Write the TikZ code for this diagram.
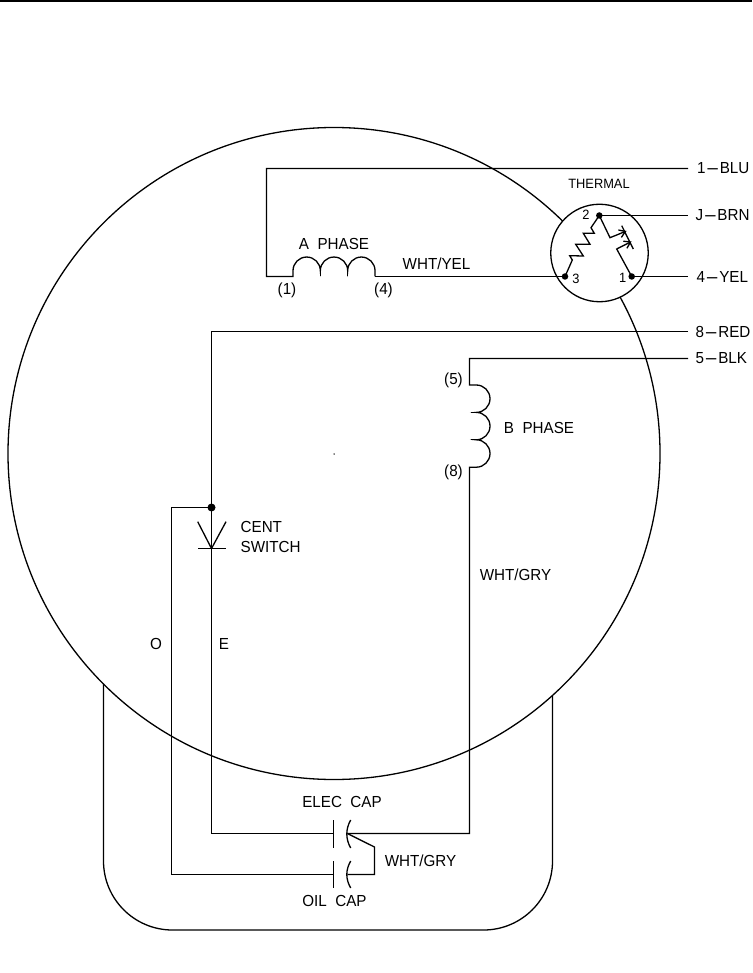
\documentclass[tikz,border=0pt]{standalone}
\usepackage{fontspec}
\setmainfont[FakeStretch=0.95]{Liberation Sans}
\usetikzlibrary{arrows.meta}
\newcommand{\longhy}{\scalebox{2.8}[1]{-}}

\begin{document}
\begin{tikzpicture}[x=1pt,y=-1pt,line width=1.3pt,
  lbl/.style={inner sep=0pt,font=\fontsize{16}{16}\selectfont},
  sm/.style={inner sep=0pt,font=\fontsize{13.5}{13.5}\selectfont},
  dot/.style={circle,fill=black,inner sep=0pt,minimum size=6.5pt},
  barb/.style={-{Straight Barb[length=6pt,width=8pt]}}]
\useasboundingbox (0,0) rectangle (752,973);
\coordinate (ruleL) at (0,1);
\coordinate (ruleR) at (752,1);
\draw[line width=2pt] (ruleL) -- (ruleR);

\node[circle,draw=black,inner sep=0pt,minimum size=652pt] (motor) at (334,453.5) {};
\node[circle,fill=black,inner sep=0pt,minimum size=1.5pt] (centre) at (334,454) {};
\node[circle,draw=black,fill=white,inner sep=0pt,minimum size=97.5pt] (thermal) at (599.5,253) {};

\coordinate (shellL) at (103.5,683.5);
\coordinate (shellR) at (552.5,696);
\draw (shellL) -- (103.5,861) arc[start angle=180,end angle=270,radius=69pt] -- (483.5,930) arc[start angle=270,end angle=360,radius=69pt] -- (shellR);

\node[dot] (t2) at (599.3,215.5) {};
\node[dot] (t3) at (565,276.5) {};
\node[dot] (t1) at (631.7,276.5) {};
\node[sm] (n2) at (586,214.3) {2};
\node[sm] (n3) at (576,279) {3};
\node[sm] (n1) at (622.7,278.3) {1};
\node[sm] (thermlbl) at (599,184.3) {THERMAL};

\draw (t3.center) -- (572.3,260) -- (569.7,255.7) -- (583.3,256) -- (575.7,244.3) -- (590,244.3) -- (583.3,233.3) -- (594.3,233.3) -- (591,227.7) -- (t2.center);
\coordinate (barT) at (621.7,225.7);
\coordinate (barB) at (633.3,249);
\draw (barT) -- (barB);
\draw[barb] (t2.center) -- (610,237.7) -- (626.5,231);
\draw[barb] (t1.center) -- (616.7,249) -- (631.5,241.5);

\node[lbl,anchor=west] (blu) at (696.5,168.5) {1\longhy BLU};
\node[lbl,anchor=west] (brn) at (695,215.5) {J\longhy BRN};
\node[lbl,anchor=west] (yel) at (696,276.5) {4\longhy YEL};
\node[lbl,anchor=west] (red) at (695,331.5) {8\longhy RED};
\node[lbl,anchor=west] (blk) at (695,358.5) {5\longhy BLK};
\coordinate (bluE) at (688,168.5);
\coordinate (brnE) at (688,215.5);
\coordinate (yelE) at (688,276.5);
\coordinate (redE) at (688,331.5);
\coordinate (blkE) at (688,358.5);

\coordinate (aIn) at (293,276.5);
\coordinate (aOut) at (375,276.5);
\draw (bluE) -- (266.5,168.5) -- (266.5,276.5) -- (aIn) -- (293,270.7)
  \foreach \i in {1,2,3} { arc[start angle=180,end angle=0,radius=13.67pt] } -- (aOut);
\draw (320.3,270.7) -- (320.3,276);
\draw (347.7,270.7) -- (347.7,276);
\draw (aOut) -- (t3.center);
\draw (t2.center) -- (brnE);
\draw (t1.center) -- (yelE);
\node[lbl] (aphase) at (334,244) {A\ \ PHASE};
\node[lbl] (p1) at (287,290) {(1)};
\node[lbl] (p4) at (383.5,290) {(4)};
\node[lbl] (wy) at (436.5,264) {WHT/YEL};

\coordinate (bIn) at (469.5,385);
\coordinate (bOut) at (469.5,467.3);
\coordinate (elecR) at (347.3,833.5);
\draw (blkE) -- (469.5,358.5) -- (bIn) -- (476.3,385)
  \foreach \i in {1,2,3} { arc[start angle=90,end angle=-90,radius=13.7pt] } -- (bOut) -- (469.5,833.5) -- (elecR);
\draw (476.3,412.4) -- (470.5,412.4);
\draw (476.3,439.8) -- (470.5,439.8);
\node[lbl] (p5) at (453.5,380) {(5)};
\node[lbl] (p8) at (453.5,472.7) {(8)};
\node[lbl] (bphase) at (539,427.7) {B\ \ PHASE};
\node[lbl] (wg1) at (515.5,575) {WHT/GRY};

\node[dot,minimum size=8pt] (junc) at (211.5,507.5) {};
\coordinate (swTip) at (211.5,548.5);
\coordinate (swL) at (197.7,521.7);
\coordinate (swR) at (226,521.7);
\coordinate (barL) at (198,548.5);
\coordinate (barR) at (226,548.5);
\coordinate (elecL) at (333.5,833.5);
\coordinate (oilL) at (333.5,874.5);
\coordinate (oilR) at (347.3,874.5);
\draw (redE) -- (211.5,331.5) -- (junc.center) -- (swTip) -- (211.5,833.5) -- (elecL);
\draw (junc.center) -- (171.5,507.5) -- (171.5,874.5) -- (oilL);
\draw (swL) -- (swTip) -- (swR);
\draw (barL) -- (barR);
\node[lbl,anchor=west] (cent) at (240,526.7) {CENT};
\node[lbl,anchor=west] (sw) at (240,546.7) {SWITCH};
\node[lbl] (lo) at (156,644) {O};
\node[lbl] (le) at (224,644) {E};

\draw (333.5,820) -- (333.5,848);
\draw (333.5,861) -- (333.5,888);
\draw (350.7,820) .. controls (345.5,829) and (345.5,839) .. (350.7,848);
\draw (350.7,861) .. controls (345.5,870) and (345.5,879) .. (350.7,888);
\draw (elecR) -- (374.5,847) -- (374.5,874.5) -- (oilR);
\node[lbl] (elec) at (342,801.7) {ELEC\ \ CAP};
\node[lbl] (oil) at (334.5,900.7) {OIL\ \ CAP};
\node[lbl] (wg2) at (420.5,861) {WHT/GRY};
\end{tikzpicture}
\end{document}
